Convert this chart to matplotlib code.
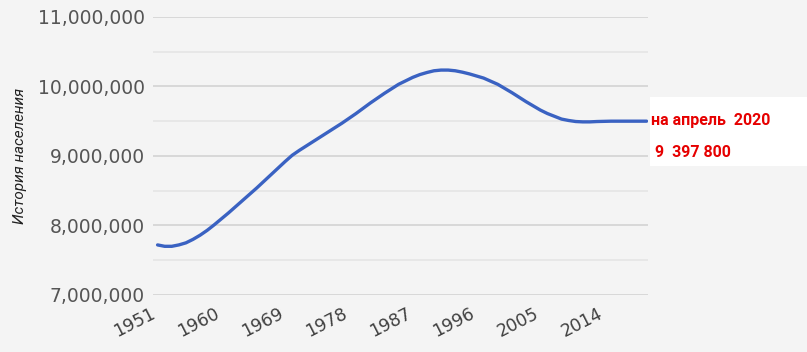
import matplotlib.pyplot as plt
from matplotlib.patches import Rectangle
from matplotlib.ticker import FuncFormatter, MultipleLocator
from matplotlib.transforms import ScaledTranslation

# population history
years = [1951, 1952, 1953, 1954, 1955, 1956, 1957, 1958, 1959, 1961, 1963, 1965,
         1967, 1969, 1970, 1971, 1973, 1975, 1977, 1979, 1981, 1983, 1985, 1987,
         1988, 1989, 1990, 1991, 1992, 1993, 1994, 1995, 1997, 1999, 2001, 2003,
         2005, 2006, 2007, 2008, 2009, 2010, 2011, 2012, 2013, 2015, 2017, 2020]
population = [7.72e6, 7.70e6, 7.70e6, 7.72e6, 7.75e6, 7.80e6, 7.86e6, 7.93e6, 8.01e6,
              8.18e6, 8.36e6, 8.54e6, 8.73e6, 8.92e6, 9.01e6, 9.08e6, 9.21e6, 9.34e6,
              9.47e6, 9.61e6, 9.76e6, 9.90e6, 10.03e6, 10.13e6, 10.17e6, 10.20e6,
              10.225e6, 10.235e6, 10.235e6, 10.225e6, 10.205e6, 10.18e6, 10.12e6,
              10.03e6, 9.91e6, 9.78e6, 9.66e6, 9.61e6, 9.57e6, 9.53e6, 9.51e6,
              9.495e6, 9.49e6, 9.49e6, 9.495e6, 9.50e6, 9.50e6, 9.50e6]
xtick_years = [1951, 1960, 1969, 1978, 1987, 1996, 2005, 2014]
ytick_values = [7e6, 8e6, 9e6, 10e6, 11e6]
note_line1 = 'на апрель  2020'
note_line2 = ' 9  397 800'

bg = '#f4f4f4'
fig = plt.figure(figsize=(8.07, 3.52), dpi=100, facecolor=bg)
ax = fig.add_axes([0.19, 0.162, 0.613, 0.79])
ax.set_facecolor(bg)

ax.plot(years, population, color='#3a62c2', lw=2.4, solid_capstyle='round',
        solid_joinstyle='round', zorder=3)

ax.set_xlim(1950.4, 2020.2)
ax.set_ylim(7e6, 11e6)
ax.set_yticks(ytick_values)
ax.yaxis.set_minor_locator(MultipleLocator(5e5))
ax.yaxis.set_major_formatter(FuncFormatter(lambda v, p: f'{int(v):,}'))
ax.grid(axis='y', which='major', color='#d6d6d6', lw=1.3)
ax.grid(axis='y', which='minor', color='#e4e4e4', lw=1.1)
ax.set_xticks(xtick_years)
ax.set_xticklabels([str(y) for y in xtick_years], rotation=27, ha='right',
                   rotation_mode='anchor')
for s in ax.spines.values():
    s.set_visible(False)
ax.tick_params(axis='y', which='both', length=0, pad=6, labelsize=13.5, labelcolor='#555555')
ax.tick_params(axis='x', length=0, pad=7, labelsize=12.5, labelcolor='#404040')
# nudge the rotated year labels a bit to the left, as in the original
shift = ScaledTranslation(-7 / 100, 0, fig.dpi_scale_trans)
for lab in ax.get_xticklabels():
    lab.set_transform(lab.get_transform() + shift)

ax.set_ylabel('История населения', fontsize=11, color='#222222', style='italic',
              family=['Roboto', 'DejaVu Sans'], labelpad=8)

# white note box on the right
fig.patches.append(Rectangle((650 / 807, 1 - 166 / 352), 157 / 807, 69 / 352,
                             transform=fig.transFigure, facecolor='white',
                             edgecolor='none', zorder=1))
fig.text(651 / 807, 1 - 125 / 352, note_line1, color='#e60000', fontsize=11.5,
         fontweight='bold', family=['Roboto', 'DejaVu Sans'], zorder=2)
fig.text(651 / 807, 1 - 157 / 352, note_line2, color='#e60000', fontsize=11.5,
         fontweight='bold', family=['Roboto', 'DejaVu Sans'], zorder=2)

fig.savefig('out.png', dpi=100, facecolor=bg)
